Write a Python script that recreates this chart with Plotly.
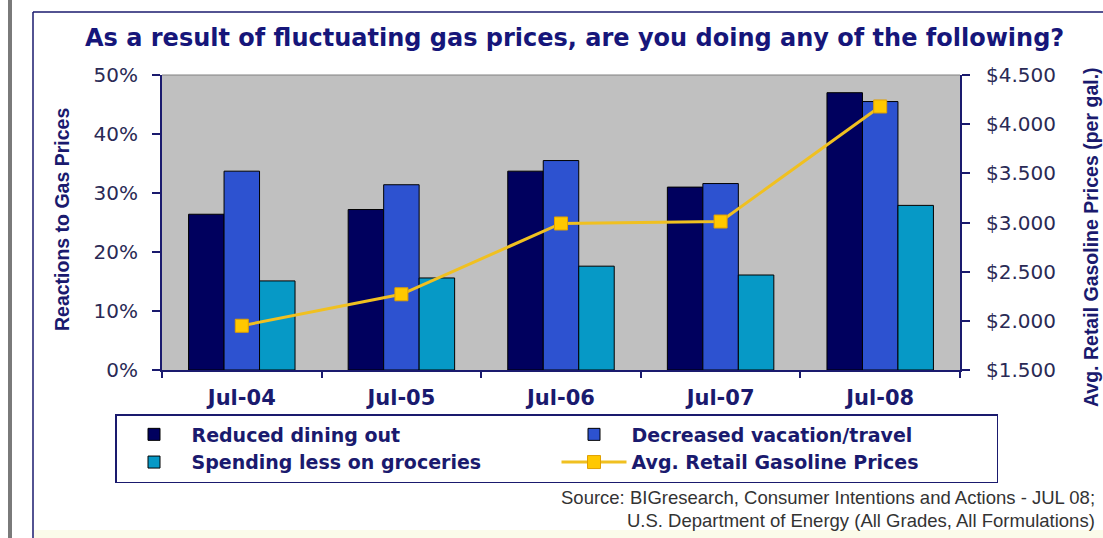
import plotly.graph_objects as go

# ---- data ----
categories = ["Jul-04", "Jul-05", "Jul-06", "Jul-07", "Jul-08"]
reduced_dining = [26.4, 27.2, 33.7, 31.0, 47.0]
decreased_vacation = [33.7, 31.4, 35.5, 31.6, 45.5]
spending_groceries = [15.1, 15.6, 17.6, 16.1, 27.9]
gas_price = [1.95, 2.27, 2.99, 3.01, 4.18]
left_ticks = [0, 10, 20, 30, 40, 50]
left_tick_labels = ["0%", "10%", "20%", "30%", "40%", "50%"]
right_ticks = [1.5, 2.0, 2.5, 3.0, 3.5, 4.0, 4.5]
right_tick_labels = ["$1.500", "$2.000", "$2.500", "$3.000", "$3.500", "$4.000", "$4.500"]

W, H = 1103, 538
PL, PR, PT, PB = 162, 960, 75, 370  # plot area in pixels


def px_x(x):
    return (x - PL) / (PR - PL)


def px_y(y):
    return (PB - y) / (PB - PT)


NAVY = "#1a1a6e"
TXT = "#2a2a55"
SANS = "Liberation Sans, Arial, sans-serif"
WIDE = "DejaVu Sans, Verdana, sans-serif"

fig = go.Figure()
fig.add_trace(go.Bar(x=categories, y=reduced_dining, name="Reduced dining out",
                     marker=dict(color="#00005e", line=dict(color="#000000", width=1))))
fig.add_trace(go.Bar(x=categories, y=decreased_vacation, name="Decreased vacation/travel",
                     marker=dict(color="#2d52d0", line=dict(color="#000000", width=1))))
fig.add_trace(go.Bar(x=categories, y=spending_groceries, name="Spending less on groceries",
                     marker=dict(color="#0699c6", line=dict(color="#000000", width=1))))
fig.add_trace(go.Scatter(x=categories, y=gas_price, name="Avg. Retail Gasoline Prices",
                         yaxis="y2", mode="lines+markers",
                         line=dict(color="#f0c020", width=3),
                         marker=dict(symbol="square", size=13, color="#ffc800",
                                     line=dict(color="#e0a000", width=1))))

shapes = [
    dict(type="line", xref="paper", yref="paper", x0=0, x1=1, y0=1, y1=1,
         line=dict(color="#808080", width=1)),
    dict(type="rect", xref="paper", yref="paper", x0=px_x(8), x1=px_x(12),
         y0=px_y(0), y1=px_y(H), fillcolor="#7a7a7a", line=dict(width=0)),
    dict(type="line", xref="paper", yref="paper", x0=px_x(33), x1=px_x(33),
         y0=px_y(12), y1=px_y(H), line=dict(color=NAVY, width=1.5)),
    dict(type="line", xref="paper", yref="paper", x0=px_x(33), x1=px_x(W),
         y0=px_y(12), y1=px_y(12), line=dict(color=NAVY, width=1.5)),
    dict(type="rect", xref="paper", yref="paper", x0=px_x(34), x1=px_x(W),
         y0=px_y(530), y1=px_y(H), fillcolor="#fbfbea", line=dict(width=0)),
]

annotations = [
    dict(text="As a result of fluctuating gas prices, are you doing any of the following?",
         xref="paper", yref="paper", x=px_x(574), y=px_y(38), showarrow=False,
         xanchor="center", yanchor="middle",
         font=dict(family=WIDE, size=24, color="#16167a", weight="bold")),
    dict(text="Reactions to Gas Prices", textangle=-90,
         xref="paper", yref="paper", x=px_x(62), y=px_y(220), showarrow=False,
         xanchor="center", yanchor="middle",
         font=dict(family=SANS, size=19.5, color=NAVY, weight="bold")),
    dict(text="Avg. Retail Gasoline Prices (per gal.)", textangle=-90,
         xref="paper", yref="paper", x=px_x(1091), y=px_y(237), showarrow=False,
         xanchor="center", yanchor="middle",
         font=dict(family=SANS, size=19.5, color=NAVY, weight="bold")),
    dict(text="Source: BIGresearch, Consumer Intentions and Actions - JUL 08;",
         xref="paper", yref="paper", x=px_x(1097), y=px_y(497), showarrow=False,
         xanchor="right", yanchor="middle",
         font=dict(family=SANS, size=18.5, color="#333333")),
    dict(text="U.S. Department of Energy (All Grades, All Formulations)",
         xref="paper", yref="paper", x=px_x(1097), y=px_y(520), showarrow=False,
         xanchor="right", yanchor="middle",
         font=dict(family=SANS, size=18.5, color="#333333")),
]

fig.update_layout(
    width=W, height=H,
    margin=dict(l=PL, r=W - PR, t=PT, b=H - PB, autoexpand=False),
    paper_bgcolor="#ffffff",
    plot_bgcolor="#c0c0c0",
    barmode="group", bargap=0.333, bargroupgap=0,
    showlegend=True,
    legend=dict(orientation="h", xref="paper", yref="paper",
                x=px_x(115), y=px_y(414), xanchor="left", yanchor="top",
                entrywidth=360, itemwidth=65,
                bgcolor="#ffffff", bordercolor=NAVY, borderwidth=1.5,
                font=dict(family=WIDE, size=19, color=NAVY, weight="bold"),
                traceorder="normal"),
    xaxis=dict(type="category", showgrid=False, showline=True, linecolor=NAVY, linewidth=2,
               ticks="outside", tickson="boundaries", ticklen=6, tickcolor=NAVY, tickwidth=2,
               ticklabelstandoff=8,
               tickfont=dict(family=WIDE, size=21, color=NAVY, weight="bold"),
               zeroline=False),
    yaxis=dict(range=[0, 50], tickvals=left_ticks, ticktext=left_tick_labels, showgrid=False,
               showline=True, linecolor=NAVY, linewidth=2, ticks="outside", ticklen=8,
               tickcolor=NAVY, tickwidth=1.5, zeroline=False, ticklabelstandoff=10,
               tickfont=dict(family=WIDE, size=20, color=TXT)),
    yaxis2=dict(range=[1.5, 4.5], tickvals=right_ticks, ticktext=right_tick_labels,
                overlaying="y", side="right", showgrid=False, showline=True,
                linecolor=NAVY, linewidth=2, ticks="outside", ticklen=8, tickcolor=NAVY,
                tickwidth=1.5, zeroline=False, ticklabelstandoff=12,
                tickfont=dict(family=WIDE, size=20, color=TXT)),
    shapes=shapes,
    annotations=annotations,
)

fig.write_html("out.html", config={"displayModeBar": False},
               post_script="document.body.style.margin='0';")
